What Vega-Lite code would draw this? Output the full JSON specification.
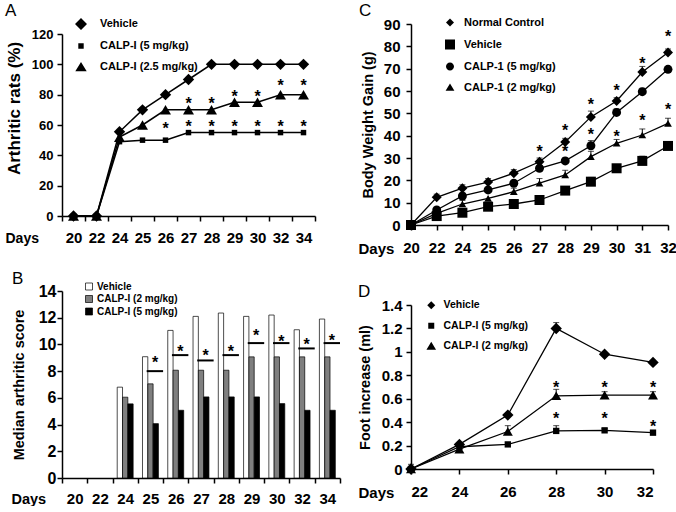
{
  "$schema": "https://vega.github.io/schema/vega-lite/v6.json",
  "padding": {"left": 5, "top": 2, "right": 0, "bottom": 0},
  "background": "white",
  "config": {
    "font": "Liberation Sans",
    "view": {"stroke": null},
    "axis": {"domainColor": "black", "domainWidth": 1.5, "tickColor": "black", "tickWidth": 1.5, "tickSize": 5, "labelColor": "black", "labelFontWeight": "bold", "labelFontSize": 15, "labelFont": "Liberation Sans", "titleColor": "black", "titleFontWeight": "bold", "titleFontSize": 14.5, "titleFont": "Liberation Sans", "grid": false, "labelOverlap": false},
    "legend": {"labelFontWeight": "bold", "labelColor": "black", "labelFont": "Liberation Sans", "padding": 0, "title": null},
    "title": {"fontWeight": "normal", "fontSize": 17, "color": "black", "anchor": "start", "frame": "group", "font": "Liberation Sans"}
  },
  "columns": 2,
  "align": "none",
  "spacing": 16,
  "resolve": {"scale": {"shape": "independent", "size": "independent", "fill": "independent"}, "legend": {"shape": "independent", "size": "independent", "fill": "independent"}},
  "concat": [
    {
      "resolve": {"scale": {"shape": "independent", "size": "independent", "fill": "independent"}, "legend": {"shape": "independent", "size": "independent", "fill": "independent"}},
      "concat": [
        {
          "width": 253, "height": 192,
          "title": {"text": "A", "dx": -57, "offset": -3},
          "data": {"values": [
            {"day": 20, "series": "Vehicle", "v": 0}, {"day": 22, "series": "Vehicle", "v": 0}, {"day": 24, "series": "Vehicle", "v": 55.5}, {"day": 25, "series": "Vehicle", "v": 70}, {"day": 26, "series": "Vehicle", "v": 80}, {"day": 27, "series": "Vehicle", "v": 90}, {"day": 28, "series": "Vehicle", "v": 100}, {"day": 29, "series": "Vehicle", "v": 100}, {"day": 30, "series": "Vehicle", "v": 100}, {"day": 32, "series": "Vehicle", "v": 100}, {"day": 34, "series": "Vehicle", "v": 100},
            {"day": 20, "series": "CALP-I (5 mg/kg)", "v": 0}, {"day": 22, "series": "CALP-I (5 mg/kg)", "v": 0}, {"day": 24, "series": "CALP-I (5 mg/kg)", "v": 49}, {"day": 25, "series": "CALP-I (5 mg/kg)", "v": 50}, {"day": 26, "series": "CALP-I (5 mg/kg)", "v": 50}, {"day": 27, "series": "CALP-I (5 mg/kg)", "v": 55}, {"day": 28, "series": "CALP-I (5 mg/kg)", "v": 55}, {"day": 29, "series": "CALP-I (5 mg/kg)", "v": 55}, {"day": 30, "series": "CALP-I (5 mg/kg)", "v": 55}, {"day": 32, "series": "CALP-I (5 mg/kg)", "v": 55}, {"day": 34, "series": "CALP-I (5 mg/kg)", "v": 55},
            {"day": 20, "series": "CALP-I (2.5 mg/kg)", "v": 0}, {"day": 22, "series": "CALP-I (2.5 mg/kg)", "v": 0}, {"day": 24, "series": "CALP-I (2.5 mg/kg)", "v": 52}, {"day": 25, "series": "CALP-I (2.5 mg/kg)", "v": 60}, {"day": 26, "series": "CALP-I (2.5 mg/kg)", "v": 70}, {"day": 27, "series": "CALP-I (2.5 mg/kg)", "v": 70}, {"day": 28, "series": "CALP-I (2.5 mg/kg)", "v": 70}, {"day": 29, "series": "CALP-I (2.5 mg/kg)", "v": 75}, {"day": 30, "series": "CALP-I (2.5 mg/kg)", "v": 75}, {"day": 32, "series": "CALP-I (2.5 mg/kg)", "v": 80}, {"day": 34, "series": "CALP-I (2.5 mg/kg)", "v": 80}
          ]},
          "encoding": {
            "x": {"field": "day", "type": "ordinal", "scale": {"type": "band", "paddingInner": 0, "paddingOuter": 0}, "axis": {"title": "Days", "titleAngle": 0, "titleAlign": "left", "titleBaseline": "middle", "titleX": -57, "titleY": 22, "titleFontSize": 14, "labelAngle": 0, "labelPadding": 9, "tickBand": "extent"}},
            "y": {"field": "v", "type": "quantitative", "scale": {"domain": [0, 120], "nice": false, "range": [192, 10]}, "axis": {"title": "Arthritic rats (%)", "values": [0, 20, 40, 60, 80, 100, 120], "labelFontSize": 13, "labelPadding": 4, "titleFontSize": 17, "titlePadding": 8, "titleY": 84}}
          },
          "layer": [
            {"mark": {"type": "line", "color": "black", "strokeWidth": 1.5}, "encoding": {"detail": {"field": "series"}}},
            {"mark": {"type": "point", "filled": true, "color": "black", "opacity": 1},
             "encoding": {
               "shape": {"field": "series", "type": "nominal", "scale": {"domain": ["CALP-I (2.5 mg/kg)", "CALP-I (5 mg/kg)", "Vehicle"], "range": ["triangle-up", "square", "diamond"]}, "legend": null},
               "size": {"field": "series", "type": "nominal", "scale": {"type": "ordinal", "domain": ["CALP-I (2.5 mg/kg)", "CALP-I (5 mg/kg)", "Vehicle"], "range": [120, 30, 130]}, "legend": null}
             }},
            {"data": {"values": [{"entry": "Vehicle"}, {"entry": "CALP-I (5 mg/kg)"}, {"entry": "CALP-I (2.5 mg/kg)"}]},
             "mark": {"type": "point", "filled": true, "fill": "black", "stroke": "black", "strokeWidth": 1.5, "opacity": 0},
             "encoding": {
               "x": {"value": 0}, "y": {"value": 0},
               "shape": {"field": "entry", "type": "nominal", "scale": {"domain": ["Vehicle", "CALP-I (5 mg/kg)", "CALP-I (2.5 mg/kg)"], "range": ["M-2.5,0H2.5M0,-1L1,0L0,1L-1,0Z", "M-2.5,0H2.5M-0.45,-0.45H0.45V0.45H-0.45Z", "M-2.5,0H2.5M0,-0.85L0.95,0.7H-0.95Z"]},
                 "legend": {"orient": "none", "legendX": 12, "legendY": -7, "symbolSize": 144, "symbolOpacity": 1, "symbolFillColor": "black", "symbolStrokeColor": "black", "symbolStrokeWidth": 1.5, "labelFontSize": 11, "labelOffset": 12, "rowPadding": 6,
                   "encode": {"symbols": {"stroke": {"value": "black"}, "strokeWidth": {"value": 1.5}, "fill": {"value": "black"}, "opacity": {"value": 1}}}}}
             }},
            {"data": {"values": [
              {"day": 26, "v": 60}, {"day": 27, "v": 61}, {"day": 28, "v": 61}, {"day": 29, "v": 61}, {"day": 30, "v": 61}, {"day": 32, "v": 61}, {"day": 34, "v": 61},
              {"day": 27, "v": 76.5}, {"day": 28, "v": 76.5}, {"day": 29, "v": 81}, {"day": 30, "v": 81}, {"day": 32, "v": 88.5}, {"day": 34, "v": 88.5}
            ]},
             "mark": {"type": "text", "text": "*", "fontSize": 16, "fontWeight": "bold", "baseline": "middle", "dy": 4, "color": "black"}}
          ],
          "resolve": {"scale": {"shape": "independent", "size": "independent"}, "legend": {"shape": "independent", "size": "independent"}}
        },
        {
          "width": 278, "height": 187,
          "title": {"text": "B", "dx": -50, "offset": -6},
          "layer": [
            {"data": {"values": [
              {"day": 24, "group": "Vehicle", "v": 6.8}, {"day": 25, "group": "Vehicle", "v": 9.08}, {"day": 26, "group": "Vehicle", "v": 11.05}, {"day": 27, "group": "Vehicle", "v": 12.1}, {"day": 28, "group": "Vehicle", "v": 12.35}, {"day": 29, "group": "Vehicle", "v": 12.1}, {"day": 30, "group": "Vehicle", "v": 12.2}, {"day": 32, "group": "Vehicle", "v": 11.1}, {"day": 34, "group": "Vehicle", "v": 11.9},
              {"day": 24, "group": "CALP-I (2 mg/kg)", "v": 6.05}, {"day": 25, "group": "CALP-I (2 mg/kg)", "v": 7.05}, {"day": 26, "group": "CALP-I (2 mg/kg)", "v": 8.07}, {"day": 27, "group": "CALP-I (2 mg/kg)", "v": 8.07}, {"day": 28, "group": "CALP-I (2 mg/kg)", "v": 8.07}, {"day": 29, "group": "CALP-I (2 mg/kg)", "v": 9.07}, {"day": 30, "group": "CALP-I (2 mg/kg)", "v": 9.07}, {"day": 32, "group": "CALP-I (2 mg/kg)", "v": 9.07}, {"day": 34, "group": "CALP-I (2 mg/kg)", "v": 9.07},
              {"day": 24, "group": "CALP-I (5 mg/kg)", "v": 5.55}, {"day": 25, "group": "CALP-I (5 mg/kg)", "v": 4.07}, {"day": 26, "group": "CALP-I (5 mg/kg)", "v": 5.07}, {"day": 27, "group": "CALP-I (5 mg/kg)", "v": 6.07}, {"day": 28, "group": "CALP-I (5 mg/kg)", "v": 6.07}, {"day": 29, "group": "CALP-I (5 mg/kg)", "v": 6.07}, {"day": 30, "group": "CALP-I (5 mg/kg)", "v": 5.57}, {"day": 32, "group": "CALP-I (5 mg/kg)", "v": 5.07}, {"day": 34, "group": "CALP-I (5 mg/kg)", "v": 5.07}
            ]},
             "mark": {"type": "bar", "stroke": "black", "strokeWidth": 0.7},
             "encoding": {
               "x": {"field": "day", "type": "ordinal", "scale": {"type": "band", "domain": [20, 22, 24, 25, 26, 27, 28, 29, 30, 32, 34], "paddingInner": 0, "paddingOuter": 0}, "axis": {"title": "Days", "titleAngle": 0, "titleAlign": "left", "titleBaseline": "middle", "titleX": -51, "titleY": 21, "titleFontSize": 14.5, "labelAngle": 0, "labelPadding": 8, "tickBand": "extent"}},
               "xOffset": {"field": "group", "type": "nominal", "sort": ["Vehicle", "CALP-I (2 mg/kg)", "CALP-I (5 mg/kg)"], "scale": {"paddingInner": 0, "paddingOuter": 0.88}},
               "y": {"field": "v", "type": "quantitative", "scale": {"domain": [0, 14], "nice": false}, "axis": {"title": "Median arthritic score", "values": [0, 2, 4, 6, 8, 10, 12, 14], "labelOverlap": false, "labelFontSize": 16, "labelPadding": 1, "titleFontSize": 14.5, "titlePadding": 12}},
               "fill": {"field": "group", "type": "nominal", "scale": {"domain": ["Vehicle", "CALP-I (2 mg/kg)", "CALP-I (5 mg/kg)"], "range": ["white", "#7f7f7f", "black"]},
                 "legend": {"orient": "none", "legendX": 22, "legendY": -9.5, "symbolType": "square", "symbolSize": 49, "symbolStrokeColor": "black", "symbolStrokeWidth": 0.7, "labelFontSize": 10, "labelOffset": 3, "rowPadding": 2.5}}
             }},
            {"data": {"values": [
              {"day": 25, "v": 8.0, "a": 8.9}, {"day": 26, "v": 9.2, "a": 9.75}, {"day": 27, "v": 8.8, "a": 9.4}, {"day": 28, "v": 9.2, "a": 9.75}, {"day": 29, "v": 10.1, "a": 10.9}, {"day": 30, "v": 10.1, "a": 10.5}, {"day": 32, "v": 9.7, "a": 10.25}, {"day": 34, "v": 10.1, "a": 10.55}
            ]},
             "layer": [
               {"mark": {"type": "rule", "strokeWidth": 2, "color": "black"},
                "encoding": {
                  "x": {"field": "day", "type": "ordinal", "bandPosition": 0.35, "axis": {"title": "Days", "titleAngle": 0, "titleAlign": "left", "titleBaseline": "middle", "titleX": -51, "titleY": 21, "titleFontSize": 14.5, "labelAngle": 0, "labelPadding": 8, "tickBand": "extent"}},
                  "x2": {"field": "day", "bandPosition": 1},
                  "y": {"field": "v", "type": "quantitative", "axis": {"title": "Median arthritic score", "values": [0, 2, 4, 6, 8, 10, 12, 14], "labelOverlap": false, "labelFontSize": 16, "labelPadding": 1, "titleFontSize": 14.5, "titlePadding": 12}}}},
               {"mark": {"type": "text", "text": "*", "fontSize": 16, "fontWeight": "bold", "baseline": "middle", "dy": 4, "color": "black"},
                "encoding": {
                  "x": {"field": "day", "type": "ordinal", "bandPosition": 0.68, "axis": {"title": "Days", "titleAngle": 0, "titleAlign": "left", "titleBaseline": "middle", "titleX": -51, "titleY": 21, "titleFontSize": 14.5, "labelAngle": 0, "labelPadding": 8, "tickBand": "extent"}},
                  "y": {"field": "a", "type": "quantitative", "axis": {"title": "Median arthritic score", "values": [0, 2, 4, 6, 8, 10, 12, 14], "labelOverlap": false, "labelFontSize": 16, "labelPadding": 1, "titleFontSize": 14.5, "titlePadding": 12}}}}
             ]}
          ]
        }
      ],
      "columns": 1,
      "align": "none",
      "spacing": 24
    },
    {
      "resolve": {"scale": {"shape": "independent", "size": "independent", "fill": "independent"}, "legend": {"shape": "independent", "size": "independent", "fill": "independent"}},
      "vconcat": [
        {
          "width": 257, "height": 201,
          "title": {"text": "C", "dx": -52, "offset": -3},
          "encoding": {
            "x": {"field": "day", "type": "ordinal", "scale": {"type": "point", "padding": 0}, "axis": {"title": "Days", "titleAngle": 0, "titleAlign": "left", "titleBaseline": "middle", "titleX": -53, "titleY": 23, "titleFontSize": 15, "labelAngle": 0, "labelPadding": 10}},
            "y": {"field": "v", "type": "quantitative", "scale": {"domain": [0, 90], "nice": false}, "axis": {"title": "Body Weight Gain (g)", "values": [0, 10, 20, 30, 40, 50, 60, 70, 80, 90], "labelPadding": 6, "titlePadding": 8}}
          },
          "layer": [
            {"data": {"values": [
              {"day": 22, "v": 12.4, "hi": 13.8}, {"day": 24, "v": 16.5, "hi": 18}, {"day": 25, "v": 19.2, "hi": 20.8}, {"day": 26, "v": 23.2, "hi": 24.8}, {"day": 27, "v": 28.3, "hi": 30}, {"day": 28, "v": 37.2, "hi": 38.8}, {"day": 29, "v": 48.4, "hi": 51}, {"day": 30, "v": 55.5, "hi": 57}, {"day": 31, "v": 68.5, "hi": 71}, {"day": 32, "v": 77.2, "hi": 78.8},
              {"day": 24, "v": 9.4, "hi": 11}, {"day": 26, "v": 14.9, "hi": 16.5}, {"day": 27, "v": 18.7, "hi": 20.8}, {"day": 28, "v": 22.4, "hi": 24.5}, {"day": 29, "v": 30.6, "hi": 33}, {"day": 30, "v": 36.6, "hi": 38.3}, {"day": 31, "v": 40.3, "hi": 43}, {"day": 32, "v": 45.5, "hi": 47.8},
              {"day": 29, "v": 19.4, "hi": 21.3}, {"day": 30, "v": 25.4, "hi": 26.8}, {"day": 31, "v": 28.7, "hi": 30.8}, {"day": 32, "v": 35.4, "hi": 37},
              {"day": 28, "v": 28.7, "hi": 30}, {"day": 29, "v": 35.5, "hi": 37.8}, {"day": 30, "v": 50.4, "hi": 52}, {"day": 31, "v": 59.7, "hi": 61.2}, {"day": 32, "v": 69.7, "hi": 71}
            ]},
             "layer": [
               {"mark": {"type": "rule", "color": "black", "strokeWidth": 1}, "encoding": {"y2": {"field": "hi"}}},
               {"mark": {"type": "tick", "color": "black", "thickness": 1, "size": 6, "orient": "horizontal"}, "encoding": {"y": {"field": "hi", "type": "quantitative"}}}
             ]},
            {"data": {"values": [
              {"day": 20, "series": "Normal Control", "v": 0}, {"day": 22, "series": "Normal Control", "v": 12.4}, {"day": 24, "series": "Normal Control", "v": 16.5}, {"day": 25, "series": "Normal Control", "v": 19.2}, {"day": 26, "series": "Normal Control", "v": 23.2}, {"day": 27, "series": "Normal Control", "v": 28.3}, {"day": 28, "series": "Normal Control", "v": 37.2}, {"day": 29, "series": "Normal Control", "v": 48.4}, {"day": 30, "series": "Normal Control", "v": 55.5}, {"day": 31, "series": "Normal Control", "v": 68.5}, {"day": 32, "series": "Normal Control", "v": 77.2},
              {"day": 20, "series": "Vehicle", "v": 0}, {"day": 22, "series": "Vehicle", "v": 4}, {"day": 24, "series": "Vehicle", "v": 5.5}, {"day": 25, "series": "Vehicle", "v": 8.2}, {"day": 26, "series": "Vehicle", "v": 9.4}, {"day": 27, "series": "Vehicle", "v": 11.2}, {"day": 28, "series": "Vehicle", "v": 15.4}, {"day": 29, "series": "Vehicle", "v": 19.4}, {"day": 30, "series": "Vehicle", "v": 25.4}, {"day": 31, "series": "Vehicle", "v": 28.7}, {"day": 32, "series": "Vehicle", "v": 35.4},
              {"day": 20, "series": "CALP-1 (5 mg/kg)", "v": 0}, {"day": 22, "series": "CALP-1 (5 mg/kg)", "v": 6.7}, {"day": 24, "series": "CALP-1 (5 mg/kg)", "v": 13}, {"day": 25, "series": "CALP-1 (5 mg/kg)", "v": 15.7}, {"day": 26, "series": "CALP-1 (5 mg/kg)", "v": 18.7}, {"day": 27, "series": "CALP-1 (5 mg/kg)", "v": 25.4}, {"day": 28, "series": "CALP-1 (5 mg/kg)", "v": 28.7}, {"day": 29, "series": "CALP-1 (5 mg/kg)", "v": 35.5}, {"day": 30, "series": "CALP-1 (5 mg/kg)", "v": 50.4}, {"day": 31, "series": "CALP-1 (5 mg/kg)", "v": 59.7}, {"day": 32, "series": "CALP-1 (5 mg/kg)", "v": 69.7},
              {"day": 20, "series": "CALP-1 (2 mg/kg)", "v": 0}, {"day": 22, "series": "CALP-1 (2 mg/kg)", "v": 5.2}, {"day": 24, "series": "CALP-1 (2 mg/kg)", "v": 9.4}, {"day": 25, "series": "CALP-1 (2 mg/kg)", "v": 11.9}, {"day": 26, "series": "CALP-1 (2 mg/kg)", "v": 14.9}, {"day": 27, "series": "CALP-1 (2 mg/kg)", "v": 18.7}, {"day": 28, "series": "CALP-1 (2 mg/kg)", "v": 22.4}, {"day": 29, "series": "CALP-1 (2 mg/kg)", "v": 30.6}, {"day": 30, "series": "CALP-1 (2 mg/kg)", "v": 36.6}, {"day": 31, "series": "CALP-1 (2 mg/kg)", "v": 40.3}, {"day": 32, "series": "CALP-1 (2 mg/kg)", "v": 45.5}
            ]},
             "layer": [
               {"mark": {"type": "line", "color": "black", "strokeWidth": 1.3}, "encoding": {"detail": {"field": "series"}}},
               {"mark": {"type": "point", "filled": true, "color": "black", "opacity": 1},
                "encoding": {
                  "shape": {"field": "series", "type": "nominal", "scale": {"domain": ["CALP-1 (2 mg/kg)", "CALP-1 (5 mg/kg)", "Vehicle", "Normal Control"], "range": ["triangle-up", "circle", "square", "diamond"]}, "legend": null},
                  "size": {"field": "series", "type": "nominal", "scale": {"type": "ordinal", "domain": ["CALP-1 (2 mg/kg)", "CALP-1 (5 mg/kg)", "Vehicle", "Normal Control"], "range": [60, 80, 100, 100]}, "legend": null}
                }}
             ]},
            {"data": {"values": [{"entry": "Normal Control"}, {"entry": "Vehicle"}, {"entry": "CALP-1 (5 mg/kg)"}, {"entry": "CALP-1 (2 mg/kg)"}]},
             "mark": {"type": "point", "filled": true, "fill": "black", "stroke": "black", "strokeWidth": 1.3, "opacity": 0},
             "encoding": {
               "x": {"value": 0}, "y": {"value": 0},
               "shape": {"field": "entry", "type": "nominal", "scale": {"domain": ["Normal Control", "Vehicle", "CALP-1 (5 mg/kg)", "CALP-1 (2 mg/kg)"], "range": ["M-2.9,0H2.9M0,-1L1,0L0,1L-1,0Z", "M-2.9,0H2.9M-1.25,-1.25H1.25V1.25H-1.25Z", "M-2.9,0H2.9M1,0A1,1,0,1,1,-1,0A1,1,0,1,1,1,0Z", "M-2.9,0H2.9M0,-1L1.1,0.8H-1.1Z"]},
                 "legend": {"orient": "none", "legendX": 33.5, "legendY": -7, "symbolSize": 64, "symbolOpacity": 1, "symbolFillColor": "black", "symbolStrokeColor": "black", "symbolStrokeWidth": 1.3, "labelFontSize": 11, "labelOffset": 8.5, "rowPadding": 6,
                   "encode": {"symbols": {"stroke": {"value": "black"}, "strokeWidth": {"value": 1.3}, "fill": {"value": "black"}, "opacity": {"value": 1}}}}}
             }},
            {"data": {"values": [
              {"day": 27, "v": 34.3}, {"day": 28, "v": 44}, {"day": 28, "v": 34.3}, {"day": 29, "v": 55.7}, {"day": 29, "v": 42.2}, {"day": 30, "v": 61.6}, {"day": 30, "v": 41}, {"day": 31, "v": 73.9}, {"day": 31, "v": 48.5}, {"day": 32, "v": 85.8}, {"day": 32, "v": 53.3}
            ]},
             "mark": {"type": "text", "text": "*", "fontSize": 16, "fontWeight": "bold", "baseline": "middle", "dy": 4, "color": "black"}}
          ],
          "resolve": {"scale": {"shape": "independent", "size": "independent"}, "legend": {"shape": "independent", "size": "independent"}}
        },
        {
          "width": 242, "height": 164,
          "title": {"text": "D", "dx": -53, "offset": -3},
          "encoding": {
            "x": {"field": "day", "type": "quantitative", "scale": {"domain": [22, 32], "nice": false, "zero": false}, "axis": {"title": "Days", "values": [22, 24, 26, 28, 30, 32], "titleAngle": 0, "titleAlign": "left", "titleBaseline": "middle", "titleX": -53, "titleY": 23, "titleFontSize": 15, "labelPadding": 10}},
            "y": {"field": "v", "type": "quantitative", "scale": {"domain": [0, 1.4], "nice": false}, "axis": {"title": "Foot increase (ml)", "values": [0, 0.2, 0.4, 0.6, 0.8, 1, 1.2, 1.4], "format": "~g", "labelPadding": 4, "titlePadding": 9}}
          },
          "layer": [
            {"data": {"values": [
              {"day": 22, "v": 0, "hi": 0.04}, {"day": 26, "v": 0.46, "hi": 0.475}, {"day": 28, "v": 1.2, "hi": 1.25}, {"day": 30, "v": 0.98, "hi": 0.995}, {"day": 32, "v": 0.91, "hi": 0.925},
              {"day": 26, "v": 0.32, "hi": 0.37}, {"day": 28, "v": 0.625, "hi": 0.68}, {"day": 30, "v": 0.63, "hi": 0.66}, {"day": 32, "v": 0.63, "hi": 0.66},
              {"day": 28, "v": 0.325, "hi": 0.37}, {"day": 30, "v": 0.33, "hi": 0.345}, {"day": 32, "v": 0.31, "hi": 0.33}
            ]},
             "layer": [
               {"mark": {"type": "rule", "color": "black", "strokeWidth": 1}, "encoding": {"y2": {"field": "hi"}}},
               {"mark": {"type": "tick", "color": "black", "thickness": 1, "size": 6, "orient": "horizontal"}, "encoding": {"y": {"field": "hi", "type": "quantitative"}}}
             ]},
            {"data": {"values": [
              {"day": 22, "series": "Vehicle", "v": 0}, {"day": 24, "series": "Vehicle", "v": 0.21}, {"day": 26, "series": "Vehicle", "v": 0.46}, {"day": 28, "series": "Vehicle", "v": 1.2}, {"day": 30, "series": "Vehicle", "v": 0.98}, {"day": 32, "series": "Vehicle", "v": 0.91},
              {"day": 22, "series": "CALP-I (5 mg/kg)", "v": 0}, {"day": 24, "series": "CALP-I (5 mg/kg)", "v": 0.19}, {"day": 26, "series": "CALP-I (5 mg/kg)", "v": 0.21}, {"day": 28, "series": "CALP-I (5 mg/kg)", "v": 0.325}, {"day": 30, "series": "CALP-I (5 mg/kg)", "v": 0.33}, {"day": 32, "series": "CALP-I (5 mg/kg)", "v": 0.31},
              {"day": 22, "series": "CALP-I (2 mg/kg)", "v": 0}, {"day": 24, "series": "CALP-I (2 mg/kg)", "v": 0.17}, {"day": 26, "series": "CALP-I (2 mg/kg)", "v": 0.32}, {"day": 28, "series": "CALP-I (2 mg/kg)", "v": 0.625}, {"day": 30, "series": "CALP-I (2 mg/kg)", "v": 0.63}, {"day": 32, "series": "CALP-I (2 mg/kg)", "v": 0.63}
            ]},
             "layer": [
               {"mark": {"type": "line", "color": "black", "strokeWidth": 1.3}, "encoding": {"detail": {"field": "series"}}},
               {"mark": {"type": "point", "filled": true, "color": "black", "opacity": 1},
                "encoding": {
                  "shape": {"field": "series", "type": "nominal", "scale": {"domain": ["CALP-I (2 mg/kg)", "CALP-I (5 mg/kg)", "Vehicle"], "range": ["triangle-up", "square", "diamond"]}, "legend": null},
                  "size": {"field": "series", "type": "nominal", "scale": {"type": "ordinal", "domain": ["CALP-I (2 mg/kg)", "CALP-I (5 mg/kg)", "Vehicle"], "range": [100, 40, 130]}, "legend": null}
                }}
             ]},
            {"data": {"values": [{"entry": "Vehicle"}, {"entry": "CALP-I (5 mg/kg)"}, {"entry": "CALP-I (2 mg/kg)"}]},
             "mark": {"type": "point", "filled": true, "fill": "black", "stroke": "black", "strokeWidth": 1.3, "opacity": 0},
             "encoding": {
               "x": {"value": 0}, "y": {"value": 0},
               "shape": {"field": "entry", "type": "nominal", "scale": {"domain": ["Vehicle", "CALP-I (5 mg/kg)", "CALP-I (2 mg/kg)"], "range": ["M-2.5,0H2.5M0,-1L1,0L0,1L-1,0Z", "M-2.5,0H2.5M-0.75,-0.75H0.75V0.75H-0.75Z", "M-2.5,0H2.5M0,-1.1L1.2,0.9H-1.2Z"]},
                 "legend": {"orient": "none", "legendX": 15, "legendY": -5, "symbolSize": 64, "symbolOpacity": 1, "symbolFillColor": "black", "symbolStrokeColor": "black", "symbolStrokeWidth": 1.3, "labelFontSize": 10.5, "labelOffset": 7, "rowPadding": 7.5,
                   "encode": {"symbols": {"stroke": {"value": "black"}, "strokeWidth": {"value": 1.3}, "fill": {"value": "black"}, "opacity": {"value": 1}}}}}
             }},
            {"data": {"values": [
              {"day": 28, "v": 0.724}, {"day": 28, "v": 0.46}, {"day": 30, "v": 0.724}, {"day": 30, "v": 0.46}, {"day": 32, "v": 0.724}, {"day": 32, "v": 0.39}
            ]},
             "mark": {"type": "text", "text": "*", "fontSize": 16, "fontWeight": "bold", "baseline": "middle", "dy": 4, "color": "black"}}
          ],
          "resolve": {"scale": {"shape": "independent", "size": "independent"}, "legend": {"shape": "independent", "size": "independent"}}
        }
      ],
      "spacing": 27
    }
  ]
}
